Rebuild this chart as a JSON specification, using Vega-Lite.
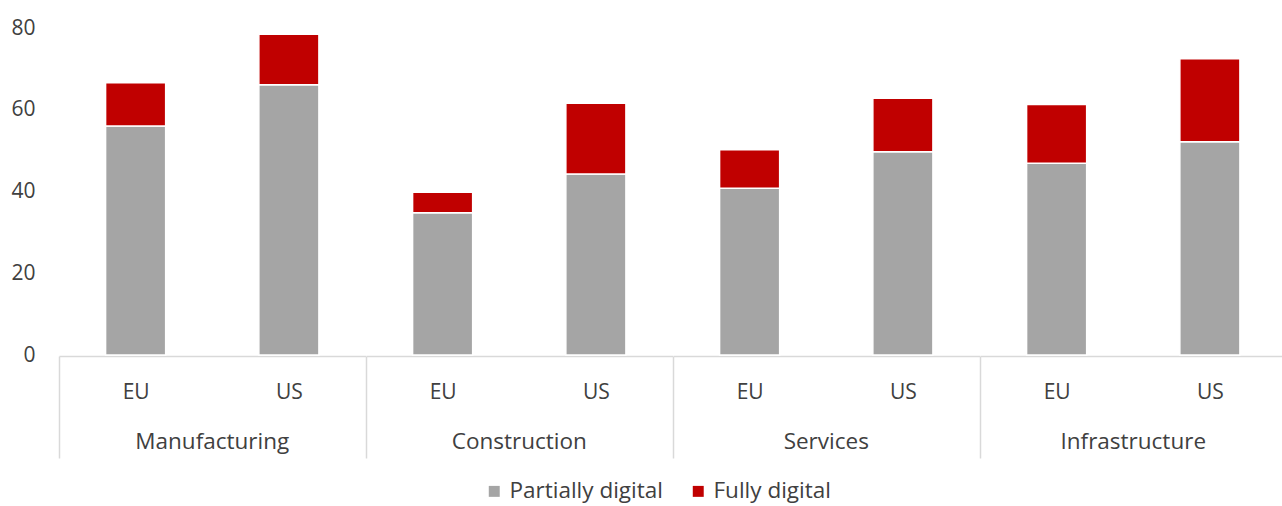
{
  "$schema": "https://vega.github.io/schema/vega-lite/v6.json",
  "padding": {"left": 10, "top": 17, "right": 0, "bottom": 0},
  "background": "white",
  "data": {"values": [
    {"sector": "Manufacturing", "region": "EU", "type": "Partially digital", "value": 56.0},
    {"sector": "Manufacturing", "region": "EU", "type": "Fully digital", "value": 10.6},
    {"sector": "Manufacturing", "region": "US", "type": "Partially digital", "value": 66.1},
    {"sector": "Manufacturing", "region": "US", "type": "Fully digital", "value": 12.4},
    {"sector": "Construction", "region": "EU", "type": "Partially digital", "value": 34.8},
    {"sector": "Construction", "region": "EU", "type": "Fully digital", "value": 5.0},
    {"sector": "Construction", "region": "US", "type": "Partially digital", "value": 44.3},
    {"sector": "Construction", "region": "US", "type": "Fully digital", "value": 17.3},
    {"sector": "Services", "region": "EU", "type": "Partially digital", "value": 40.8},
    {"sector": "Services", "region": "EU", "type": "Fully digital", "value": 9.4},
    {"sector": "Services", "region": "US", "type": "Partially digital", "value": 49.7},
    {"sector": "Services", "region": "US", "type": "Fully digital", "value": 13.1},
    {"sector": "Infrastructure", "region": "EU", "type": "Partially digital", "value": 46.9},
    {"sector": "Infrastructure", "region": "EU", "type": "Fully digital", "value": 14.4},
    {"sector": "Infrastructure", "region": "US", "type": "Partially digital", "value": 52.2},
    {"sector": "Infrastructure", "region": "US", "type": "Fully digital", "value": 20.3}
  ]},
  "facet": {
    "column": {
      "field": "sector",
      "type": "nominal",
      "sort": ["Manufacturing", "Construction", "Services", "Infrastructure"],
      "header": {
        "title": null,
        "labelOrient": "bottom",
        "labelFontSize": 22.5,
        "labelColor": "#404040",
        "labelFont": "Open Sans",
        "labelPadding": -28
      }
    }
  },
  "spacing": 0,
  "spec": {
    "width": 306.5,
    "height": 327,
    "mark": {"type": "bar", "stroke": "white", "strokeWidth": 1.5},
    "encoding": {
      "x": {
        "field": "region",
        "type": "nominal",
        "scale": {"paddingInner": 0.608, "paddingOuter": 0.304},
        "axis": {
          "title": null,
          "labelAngle": 0,
          "labelFontSize": 21,
          "labelColor": "#404040",
          "labelFont": "Open Sans",
          "domainColor": "#d9d9d9",
          "domainWidth": 1.5,
          "tickSize": 102,
          "tickWidth": 1.5,
          "tickOffset": -76.6,
          "labelOffset": 76.6,
          "tickColor": {"condition": {"test": "datum.value === 'EU'", "value": "#d9d9d9"}, "value": "transparent"},
          "labelPadding": -77
        }
      },
      "y": {
        "field": "value",
        "type": "quantitative",
        "stack": "zero",
        "scale": {"domain": [0, 80], "nice": false},
        "axis": {
          "title": null,
          "values": [0, 20, 40, 60, 80],
          "domain": false,
          "ticks": false,
          "grid": false,
          "labelFontSize": 21,
          "labelColor": "#404040",
          "labelFont": "Open Sans",
          "labelPadding": 24
        }
      },
      "color": {
        "field": "type",
        "type": "nominal",
        "scale": {"domain": ["Partially digital", "Fully digital"], "range": ["#A5A5A5", "#C00000"]},
        "legend": {
          "title": null,
          "orient": "none",
          "legendX": 424,
          "legendY": 452,
          "direction": "horizontal",
          "symbolType": "square",
          "symbolSize": 120,
          "symbolStrokeWidth": 0,
          "labelFontSize": 22.5,
          "labelColor": "#404040",
          "labelFont": "Open Sans",
          "columnPadding": 24
        }
      },
      "order": {"field": "type", "sort": "descending"}
    }
  },
  "config": {
    "view": {"stroke": null}
  }
}
